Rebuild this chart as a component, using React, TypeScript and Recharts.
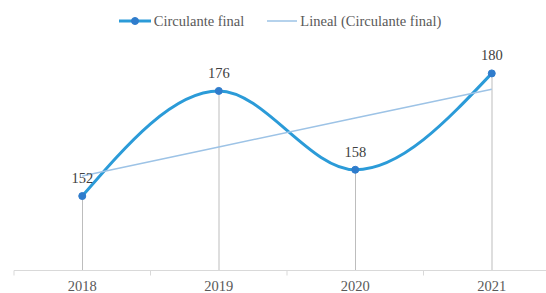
import React from 'react';
import { ComposedChart, Line, Bar, XAxis, YAxis, Legend, LabelList } from 'recharts';

const years = ['2018', '2019', '2020', '2021'];
const circulanteFinal = [152, 176, 158, 180];
// linear trendline values
const lineal = [156.6, 163.2, 169.8, 176.4];

const data = years.map((year, i) => ({
  year,
  value: circulanteFinal[i],
  trend: lineal[i],
}));

const FONT = '"Liberation Serif", "Times New Roman", serif';
const LINE_BLUE = '#2b9bd8';
const MARKER_BLUE = '#2f7ccc';
const TREND_BLUE = '#9dc3e6';
const AXIS_GRAY = '#d9d9d9';
const TICK_MARGIN = 10.5;

const YearTick = (props: any) => {
  const { x, y, payload } = props;
  const half = payload && typeof payload.offset === 'number' ? payload.offset : 68;
  const axisY = y - TICK_MARGIN;
  return (
    <g>
      <line x1={x - half} x2={x - half} y1={axisY} y2={axisY + 5} stroke={AXIS_GRAY} />
      <text
        x={x}
        y={y}
        dy="0.71em"
        textAnchor="middle"
        fill="#595959"
        fontSize={14.5}
        fontFamily={FONT}
      >
        {payload.value}
      </text>
    </g>
  );
};

const LegendContent = (props: any) => {
  const items = (props.payload || []).filter((p: any) => p.type !== 'none');
  return (
    <div style={{ height: 0, overflow: 'visible' }}>
      <div
        style={{
          display: 'flex',
          justifyContent: 'center',
          alignItems: 'center',
          gap: 23,
          fontFamily: FONT,
          fontSize: 14.5,
          color: '#595959',
          whiteSpace: 'nowrap',
        }}
      >
        {items.map((item: any) =>
          item.dataKey === 'value' ? (
            <span key="value" style={{ display: 'flex', alignItems: 'center' }}>
              <svg width={32} height={10}>
                <line x1={0} x2={32} y1={5} y2={5} stroke={LINE_BLUE} strokeWidth={3} />
                <circle cx={16} cy={5} r={3.5} fill={MARKER_BLUE} stroke={MARKER_BLUE} />
              </svg>
              <span style={{ marginLeft: 3 }}>{item.value}</span>
            </span>
          ) : (
            <span key="trend" style={{ display: 'flex', alignItems: 'center' }}>
              <svg width={30} height={10}>
                <line x1={0} x2={30} y1={5} y2={5} stroke={TREND_BLUE} strokeWidth={1.5} />
              </svg>
              <span style={{ marginLeft: 3 }}>{item.value}</span>
            </span>
          )
        )}
      </div>
    </div>
  );
};

export default function App() {
  return (
    <div
      style={{
        position: 'absolute',
        left: 0,
        top: 0,
        width: 546,
        height: 293,
        overflow: 'hidden',
        background: '#ffffff',
      }}
    >
      <ComposedChart
        width={560}
        height={293}
        data={data}
        margin={{ top: 51.5, right: 0, bottom: 0, left: 14 }}
      >
        <XAxis
          dataKey="year"
          height={22.5}
          axisLine={{ stroke: AXIS_GRAY }}
          tickLine={false}
          tickSize={0}
          tickMargin={TICK_MARGIN}
          tick={<YearTick />}
          interval={0}
        />
        <YAxis hide domain={[135, 185]} />
        <Legend
          verticalAlign="top"
          content={<LegendContent />}
          wrapperStyle={{ top: 12.5, left: 0, width: 560 }}
        />
        <Bar
          dataKey="value"
          barSize={1}
          fill="#bdbdbd"
          legendType="none"
          isAnimationActive={false}
        />
        <Line
          type="monotone"
          dataKey="value"
          name="Circulante final"
          stroke={LINE_BLUE}
          strokeWidth={3}
          dot={{ r: 3.5, fill: MARKER_BLUE, stroke: MARKER_BLUE, strokeWidth: 1 }}
          activeDot={false}
          isAnimationActive={false}
        >
          <LabelList
            dataKey="value"
            position="top"
            offset={13}
            fill="#404040"
            fontSize={14.5}
            fontFamily={FONT}
          />
        </Line>
        <Line
          type="linear"
          dataKey="trend"
          name="Lineal (Circulante final)"
          stroke={TREND_BLUE}
          strokeWidth={1.5}
          dot={false}
          activeDot={false}
          isAnimationActive={false}
        />
      </ComposedChart>
    </div>
  );
}
